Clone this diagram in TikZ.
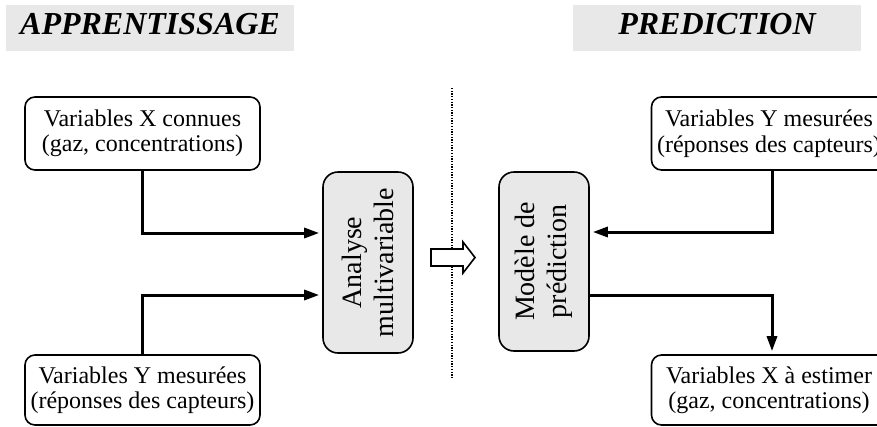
\documentclass[tikz,border=0pt]{standalone}
\usepackage{fontspec}
\setmainfont{Liberation Serif}
\usetikzlibrary{arrows.meta}
\definecolor{boxgray}{HTML}{E8E8E8}
\begin{document}
\begin{tikzpicture}[x=1pt,y=-1pt,
  titlebox/.style={fill=boxgray, minimum width=288pt, minimum height=46pt, inner sep=0pt,
    font=\fontsize{32}{36}\selectfont\bfseries\itshape, text height=21pt, text depth=8pt},
  varbox/.style={draw, line width=1.6pt, rounded corners=10pt, minimum width=235pt,
    inner sep=0pt, align=center, font=\fontsize{24}{25.5}\selectfont},
  procbox/.style={draw, fill=boxgray, line width=1.6pt, rounded corners=15pt,
    minimum width=90pt, inner sep=0pt},
  proctext/.style={rotate=90, align=center, inner sep=0pt, font=\fontsize{28}{32}\selectfont},
  arr/.style={line width=3pt, -{Triangle[length=15pt,width=10pt]}, shorten >=3pt},
  dotline/.style={line width=1.3pt, dash pattern=on 1.3pt off 1.4pt},
  hollow/.style={draw, fill=white, line width=1.6pt, line join=miter}
]
\useasboundingbox (0,0) rectangle (877,426);

% titles
\node[titlebox] (t1) at (150,28) {APPRENTISSAGE};
\node[titlebox] (t2) at (717,28) {PREDICTION};

% separator
\coordinate (dtop) at (452,88);
\coordinate (dbot) at (452,378);
\draw[dotline] (dtop) -- (dbot);

% variable boxes
\node[varbox, minimum height=73pt] (lt) at (142.5,133.5) {Variables X connues\\(gaz, concentrations)};
\node[varbox, minimum height=70pt] (lb) at (142.5,390) {Variables Y mesurées\\(réponses des capteurs)};
\node[varbox, minimum height=73pt] (rt) at (769,133.5) {Variables Y mesurées\\(réponses des capteurs)};
\node[varbox, minimum height=70pt] (rb) at (769,390) {Variables X à estimer\\(gaz, concentrations)};

% process boxes
\node[procbox, minimum height=181pt] (ana) at (368,262.5) {};
\node[proctext] (anat) at (ana.center) {Analyse\\multivariable};
\node[procbox, minimum height=179pt] (mod) at (544,261.5) {};
\node[proctext] (modt) at (mod.center) {Modèle de\\prédiction};

% hollow arrow
\draw[hollow] (431,249) -- (463,249) -- (463,242) -- (475,257.5) -- (463,273) -- (463,266) -- (431,266) -- cycle;

% connectors
\draw[arr] (lt.south) |- (ana.west |- 0,233);
\draw[arr] (lb.north) |- (ana.west |- 0,295);
\draw[arr] ([xshift=3pt]rt.south) |- (mod.east |- 0,232);
\draw[arr] (mod.east |- 0,295) -| ([xshift=3pt]rb.north);
\end{tikzpicture}
\end{document}
